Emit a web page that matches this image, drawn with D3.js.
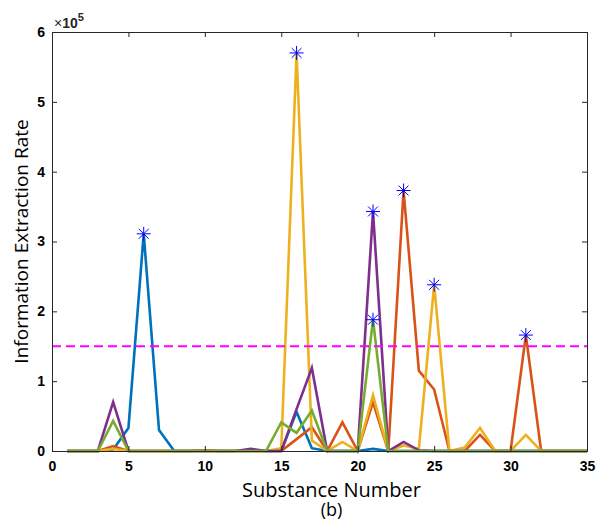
<!DOCTYPE html>
<html>
<head>
<meta charset="utf-8">
<script src="https://cdn.jsdelivr.net/npm/d3@7"></script>
<style>
  body { margin: 0; background: #fff; }
  svg { display: block; }
</style>
</head>
<body>
<svg width="596" height="520"></svg>
<script>
// substance numbers 1..35
const substances = d3.range(1, 36);

// values in units of 1e5, one entry per substance
const blueVals = [0,0,0,0.02,0.33,3.11,0.3,0,0,0, 0,0,0,0,0,0.56,0.04,0,0,0, 0.03,0,0,0,0,0,0,0,0,0, 0,0,0,0,0];
const orangeVals = [0,0,0,0.07,0,0,0,0,0,0.01, 0,0,0,0,0,0.17,0.34,0,0.41,0, 0.7,0,3.73,1.15,0.88,0,0,0.23,0,0, 1.66,0,0,0,0];
const yellowVals = [0,0,0,0.03,0,0,0,0,0,0, 0,0,0,0,0.04,5.7,0.15,0,0.13,0, 0.8,0,0.08,0.03,2.38,0,0.05,0.33,0,0, 0.23,0,0,0,0];
const purpleVals = [0,0,0,0.7,0,0,0,0,0,0, 0,0,0.03,0,0,0.6,1.19,0,0,0, 3.43,0,0.13,0.01,0,0,0,0,0,0, 0,0,0,0,0];
const greenVals = [0,0,0,0.43,0,0,0,0,0,0, 0,0,0,0,0.41,0.26,0.58,0,0,0, 1.88,0,0,0,0,0,0,0,0,0, 0,0,0,0,0];

const seriesColors = ["#0072BD", "#D95319", "#EDB120", "#7E2F8E", "#77AC30"];
const allSeries = [blueVals, orangeVals, yellowVals, purpleVals, greenVals];

// peaks marked with stars: [substance, value]
const peakX = [6, 16, 21, 21, 23, 25, 31];
const peakY = [3.11, 5.7, 3.43, 1.88, 3.73, 2.38, 1.66];

const threshold = 1.5;
const xTicks = [0, 5, 10, 15, 20, 25, 30, 35];
const yTicks = [0, 1, 2, 3, 4, 5, 6];

const svg = d3.select("svg");
const mLeft = 52, mRight = 587, mTop = 32, mBottom = 451;

const x = d3.scaleLinear().domain([0, 35]).range([mLeft, mRight]);
const y = d3.scaleLinear().domain([0, 6]).range([mBottom, mTop]);

const axisColor = "#262626";
const tickFont = "'Liberation Sans', Arial, sans-serif";
const labelFont = "'Open Sans', 'Noto Sans', sans-serif";

// data lines
const line = d3.line().x((d, i) => x(substances[i])).y(d => y(d));
allSeries.forEach((vals, k) => {
  svg.append("path")
    .datum(vals)
    .attr("d", line)
    .attr("fill", "none")
    .attr("stroke", seriesColors[k])
    .attr("stroke-width", 2.6)
    .attr("stroke-linejoin", "miter");
});

// threshold line
svg.append("line")
  .attr("x1", x(0)).attr("x2", x(35))
  .attr("y1", y(threshold)).attr("y2", y(threshold))
  .attr("stroke", "#FF00FF")
  .attr("stroke-width", 1.8)
  .attr("stroke-dasharray", "9,5");

// star markers
const star = svg.append("g");
peakX.forEach((px, i) => {
  const cx = x(px), cy = y(peakY[i]), r = 7;
  for (let a = 0; a < 4; a++) {
    const ang = a * Math.PI / 4;
    star.append("line")
      .attr("x1", cx - r * Math.cos(ang)).attr("y1", cy - r * Math.sin(ang))
      .attr("x2", cx + r * Math.cos(ang)).attr("y2", cy + r * Math.sin(ang))
      .attr("stroke", "#0000FF")
      .attr("stroke-width", 1);
  }
});

// axes (MATLAB style box with inward ticks)
const xAxis = svg.append("g")
  .attr("transform", `translate(0,${mBottom})`)
  .call(d3.axisBottom(x).tickValues(xTicks).tickSize(-5).tickPadding(10).tickFormat(d3.format("d")));
const yAxis = svg.append("g")
  .attr("transform", `translate(${mLeft},0)`)
  .call(d3.axisLeft(y).tickValues(yTicks).tickSize(-5).tickPadding(7).tickFormat(d3.format("d")));
const xTop = svg.append("g")
  .attr("transform", `translate(0,${mTop})`)
  .call(d3.axisTop(x).tickValues(xTicks).tickSize(-5).tickFormat(""));
const yRight = svg.append("g")
  .attr("transform", `translate(${mRight},0)`)
  .call(d3.axisRight(y).tickValues(yTicks).tickSize(-5).tickFormat(""));

[xAxis, yAxis, xTop, yRight].forEach(g => {
  g.selectAll(".domain").attr("stroke", axisColor).attr("stroke-width", 1);
  g.selectAll(".tick line").attr("stroke", axisColor);
  g.selectAll("text")
    .attr("fill", "#000")
    .style("font-family", tickFont)
    .style("font-size", "14px")
    .style("font-weight", "bold");
});

// exponent label
const expo = svg.append("text")
  .attr("x", 54)
  .attr("y", 28)
  .attr("fill", "#262626")
  .style("font-family", tickFont)
  .style("font-size", "14px");
expo.append("tspan").text("×");
expo.append("tspan").style("font-weight", "bold").text("10");
expo.append("tspan").attr("dy", -7).style("font-size", "11px").style("font-weight", "bold").text("5");

// x label with the panel tag on a second line
const xMid = (mLeft + mRight) / 2 + 12;
const xLabel = svg.append("text")
  .attr("text-anchor", "middle")
  .style("font-family", labelFont)
  .style("font-size", "20px");
xLabel.append("tspan").attr("x", xMid).attr("y", 497).text("Substance Number");
xLabel.append("tspan").attr("x", xMid).attr("dy", 19).style("font-size", "18px").text("(b)");

svg.append("text")
  .attr("transform", `translate(28,${(mTop + mBottom) / 2}) rotate(-90)`)
  .attr("text-anchor", "middle")
  .style("font-family", labelFont)
  .style("font-size", "19px")
  .text("Information Extraction Rate");
</script>
</body>
</html>
